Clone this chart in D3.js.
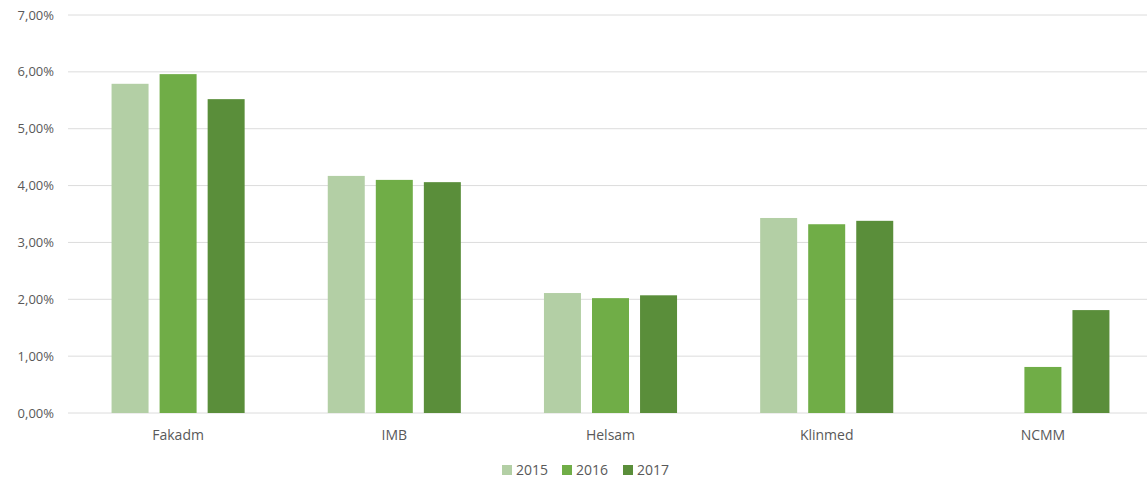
<!DOCTYPE html>
<html>
<head>
<meta charset="utf-8">
<script src="https://cdn.jsdelivr.net/npm/d3@7"></script>
<style>
  body { margin: 0; background: #fff; }
  svg text { font-family: "Open Sans", "Liberation Sans", sans-serif; fill: #595959; }
</style>
</head>
<body>
<div id="chart"></div>
<script>
const categories = ["Fakadm", "IMB", "Helsam", "Klinmed", "NCMM"];
const years = ["2015", "2016", "2017"];
const values2015 = [5.79, 4.17, 2.11, 3.43, null];
const values2016 = [5.96, 4.10, 2.02, 3.32, 0.81];
const values2017 = [5.52, 4.06, 2.07, 3.38, 1.81];
const yTicks = [0, 1, 2, 3, 4, 5, 6, 7];
const colors = ["#b3cfa5", "#70ad47", "#5a8e3a"];

const width = 1147, height = 484;
const margin = { top: 15, right: 0, bottom: 71, left: 68 };

const svg = d3.select("#chart").append("svg")
  .attr("width", width)
  .attr("height", height);

const x = d3.scaleBand()
  .domain(categories)
  .range([margin.left + 2, width + 4]);

const x1 = d3.scaleBand()
  .domain(years)
  .range([0, x.bandwidth()])
  .paddingInner(0.23)
  .paddingOuter(0.865);

const y = d3.scaleLinear()
  .domain([0, 7])
  .range([height - margin.bottom, margin.top]);

// gridlines + y labels
svg.append("g")
  .selectAll("line")
  .data(yTicks)
  .join("line")
  .attr("x1", margin.left)
  .attr("x2", width)
  .attr("y1", d => y(d))
  .attr("y2", d => y(d))
  .attr("stroke", "#dcdcdc")
  .attr("stroke-width", 1);

svg.append("g")
  .selectAll("text")
  .data(yTicks)
  .join("text")
  .attr("x", 54)
  .attr("y", d => y(d))
  .attr("dy", "0.35em")
  .attr("text-anchor", "end")
  .style("font-size", "13px")
  .text(d => d3.format(".2f")(d).replace(".", ",") + "%");

// bars
const series = [values2015, values2016, values2017];
const rows = [];
categories.forEach((c, i) => {
  years.forEach((yr, j) => {
    if (series[j][i] != null) rows.push({ cat: c, year: yr, v: series[j][i], color: colors[j] });
  });
});

svg.append("g")
  .selectAll("rect")
  .data(rows)
  .join("rect")
  .attr("x", d => x(d.cat) + x1(d.year))
  .attr("width", x1.bandwidth())
  .attr("y", d => y(d.v))
  .attr("height", d => y(0) - y(d.v))
  .attr("fill", d => d.color);

// category labels
svg.append("g")
  .selectAll("text")
  .data(categories)
  .join("text")
  .attr("x", d => x(d) + x.bandwidth() / 2)
  .attr("y", 440)
  .attr("text-anchor", "middle")
  .style("font-size", "14px")
  .text(d => d);

// legend
const legendX = [502, 562, 623];
const legend = svg.append("g")
  .selectAll("g")
  .data(years)
  .join("g")
  .attr("transform", (d, i) => `translate(${legendX[i]},470)`);

legend.append("rect")
  .attr("x", 0)
  .attr("y", -5)
  .attr("width", 10)
  .attr("height", 10)
  .attr("fill", (d, i) => colors[i]);

legend.append("text")
  .attr("x", 14)
  .attr("y", 0)
  .attr("dy", "0.35em")
  .style("font-size", "14px")
  .text(d => d);
</script>
</body>
</html>
